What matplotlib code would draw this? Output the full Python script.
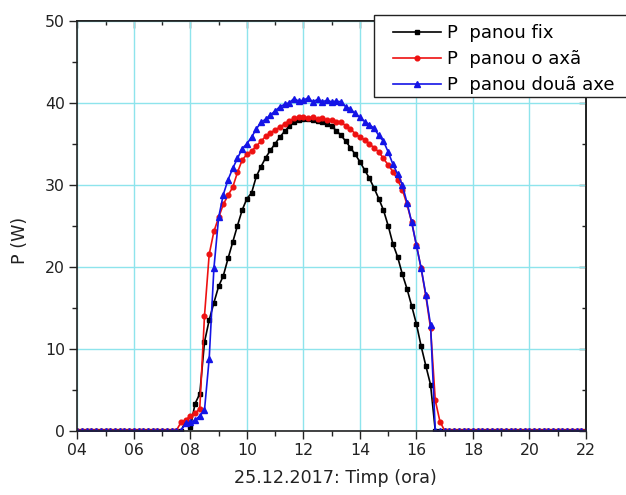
import numpy as np
import matplotlib
matplotlib.use("Agg")
import matplotlib.pyplot as plt
from matplotlib.patches import Rectangle
from matplotlib.ticker import MultipleLocator

plt.rcParams['font.family'] = ['DejaVu Sans']

# 10-minute samples from 04:00 to 22:00
hours = 4 + np.arange(109) / 6

# Panel power (W), fixed panel
p_fix = [
    0, 0, 0, 0, 0, 0,                      # 04
    0, 0, 0, 0, 0, 0,                      # 05
    0, 0, 0, 0, 0, 0,                      # 06
    0, 0, 0, 0, 0, 1.1,                    # 07
    0.4, 3.3, 4.5, 10.8, 13.5, 15.6,       # 08
    17.6, 18.9, 21.0, 23.0, 25.0, 26.9,    # 09
    28.3, 29.0, 31.0, 32.2, 33.3, 34.2,    # 10
    35.0, 35.8, 36.5, 37.1, 37.6, 37.9,    # 11
    38.0, 38.0, 37.9, 37.8, 37.6, 37.4,    # 12
    37.1, 36.6, 36.0, 35.3, 34.5, 33.7,    # 13
    32.8, 31.8, 30.8, 29.6, 28.3, 26.9,    # 14
    25.0, 22.8, 21.2, 19.1, 17.3, 15.2,    # 15
    13.0, 10.3, 7.9, 5.6, 0, 0,            # 16
    0, 0, 0, 0, 0, 0,                      # 17
    0, 0, 0, 0, 0, 0,                      # 18
    0, 0, 0, 0, 0, 0,                      # 19
    0, 0, 0, 0, 0, 0,                      # 20
    0, 0, 0, 0, 0, 0,                      # 21
    0,                                     # 22
]

# Single-axis tracking panel
p_one_axis = [
    0, 0, 0, 0, 0, 0,                      # 04
    0, 0, 0, 0, 0, 0,                      # 05
    0, 0, 0, 0, 0, 0,                      # 06
    0, 0, 0, 0, 1.0, 1.3,                  # 07
    1.8, 2.1, 2.7, 14.0, 21.5, 24.3,       # 08
    26.0, 27.6, 28.7, 29.7, 31.5, 33.0,    # 09
    33.7, 34.1, 34.7, 35.3, 35.9, 36.3,    # 10
    36.7, 37.0, 37.4, 37.8, 38.1, 38.2,    # 11
    38.2, 38.1, 38.2, 38.0, 38.1, 37.9,    # 12
    37.9, 37.7, 37.6, 37.2, 36.8, 36.2,    # 13
    35.8, 35.5, 35.0, 34.5, 34.0, 33.2,    # 14
    32.4, 31.6, 30.6, 29.4, 27.6, 25.4,    # 15
    22.6, 19.8, 16.4, 12.5, 3.7, 1.1,      # 16
    0, 0, 0, 0, 0, 0,                      # 17
    0, 0, 0, 0, 0, 0,                      # 18
    0, 0, 0, 0, 0, 0,                      # 19
    0, 0, 0, 0, 0, 0,                      # 20
    0, 0, 0, 0, 0, 0,                      # 21
    0,                                     # 22
]

# Dual-axis tracking panel
p_two_axes = [
    0, 0, 0, 0, 0, 0,                      # 04
    0, 0, 0, 0, 0, 0,                      # 05
    0, 0, 0, 0, 0, 0,                      # 06
    0, 0, 0, 0, 0, 0.9,                    # 07
    1.0, 1.3, 1.8, 2.5, 8.8, 19.8,         # 08
    26.0, 28.8, 30.6, 32.0, 33.2, 34.4,    # 09
    35.0, 35.8, 36.8, 37.6, 38.0, 38.5,    # 10
    39.0, 39.5, 39.8, 40.0, 40.5, 40.2,    # 11
    40.3, 40.6, 40.1, 40.4, 40.1, 40.3,    # 12
    40.1, 40.2, 40.1, 39.5, 39.2, 38.7,    # 13
    38.2, 37.7, 37.3, 36.9, 36.0, 35.3,    # 14
    34.0, 32.5, 31.3, 30.0, 27.8, 25.4,    # 15
    22.6, 19.8, 16.6, 12.9, 0, 0,          # 16
    0, 0, 0, 0, 0, 0,                      # 17
    0, 0, 0, 0, 0, 0,                      # 18
    0, 0, 0, 0, 0, 0,                      # 19
    0, 0, 0, 0, 0, 0,                      # 20
    0, 0, 0, 0, 0, 0,                      # 21
    0,                                     # 22
]

x_ticks = [4, 6, 8, 10, 12, 14, 16, 18, 20, 22]
x_tick_labels = ["04", "06", "08", "10", "12", "14", "16", "18", "20", "22"]
y_ticks = [0, 10, 20, 30, 40, 50]

series_labels = ["P  panou fix", "P  panou o axã", "P  panou douã axe"]

W, H = 626, 495
fig = plt.figure(figsize=(W / 100, H / 100), dpi=100)
ax = fig.add_axes([0.1235, 0.1299, 0.8126, 0.8283])

styles = [
    dict(color="black", marker="s", markersize=2.9),
    dict(color="#ee1111", marker="o", markersize=3.4),
    dict(color="#1414e6", marker="^", markersize=3.7),
]
handles = []
for vals, st, lab in zip([p_fix, p_one_axis, p_two_axes], styles, series_labels):
    h, = ax.plot(hours, vals, lw=1.2, label=lab, **st)
    handles.append(h)

ax.set_xlim(4, 22)
ax.set_ylim(0, 50)
ax.set_xticks(x_ticks)
ax.set_xticklabels(x_tick_labels)
ax.set_yticks(y_ticks)
ax.xaxis.set_minor_locator(MultipleLocator(1))
ax.yaxis.set_minor_locator(MultipleLocator(5))

ax.grid(True, which="major", color="#8ee4ec", lw=1.0)
ax.set_axisbelow(True)

for sp in ax.spines.values():
    sp.set_linewidth(1.2)
    sp.set_color("#222222")

ax.tick_params(which="major", direction="out", length=6, width=1.0, labelsize=11.3,
               colors="#222222", top=False, right=False, pad=3)
ax.tick_params(which="minor", direction="out", length=3.5, width=1.0,
               colors="#222222", top=False, right=False)

# mirrored axes on top and right with inward ticks
secx = ax.secondary_xaxis("top")
secx.set_xticks(x_ticks)
secx.xaxis.set_minor_locator(MultipleLocator(1))
secx.tick_params(which="major", direction="in", length=5, width=1.0, labeltop=False,
                 colors="#222222")
secx.tick_params(which="minor", direction="in", length=3, width=1.0, colors="#222222")
secx.spines["top"].set_linewidth(1.2)

secy = ax.secondary_yaxis("right")
secy.set_yticks(y_ticks)
secy.yaxis.set_minor_locator(MultipleLocator(5))
secy.tick_params(which="major", direction="in", length=5, width=1.0, labelright=False,
                 colors="#222222")
secy.tick_params(which="minor", direction="in", length=3, width=1.0, colors="#222222")
secy.spines["right"].set_linewidth(1.2)

ax.set_xlabel("25.12.2017: Timp (ora)", fontsize=12.6, color="#222222")
ax.set_ylabel("P (W)", fontsize=12.6, color="#222222")
ax.xaxis.set_label_coords(0.507, -0.094)
ax.yaxis.set_label_coords(-0.094, 0.465)

# legend box running off the right edge
fig.add_artist(Rectangle((374 / W, 1 - 97 / H), (720 - 374) / W, (97 - 15) / H,
                         transform=fig.transFigure, facecolor="white",
                         edgecolor="#222222", lw=1.0, zorder=4))
fig.legend(handles, series_labels, loc="upper left",
           bbox_to_anchor=(393 / W, 1 - 24 / H), bbox_transform=fig.transFigure,
           frameon=False, fontsize=13, handlelength=2.66, handletextpad=0.33,
           labelspacing=0.44, borderpad=0, borderaxespad=0)

fig.savefig("out.png", dpi=100)
